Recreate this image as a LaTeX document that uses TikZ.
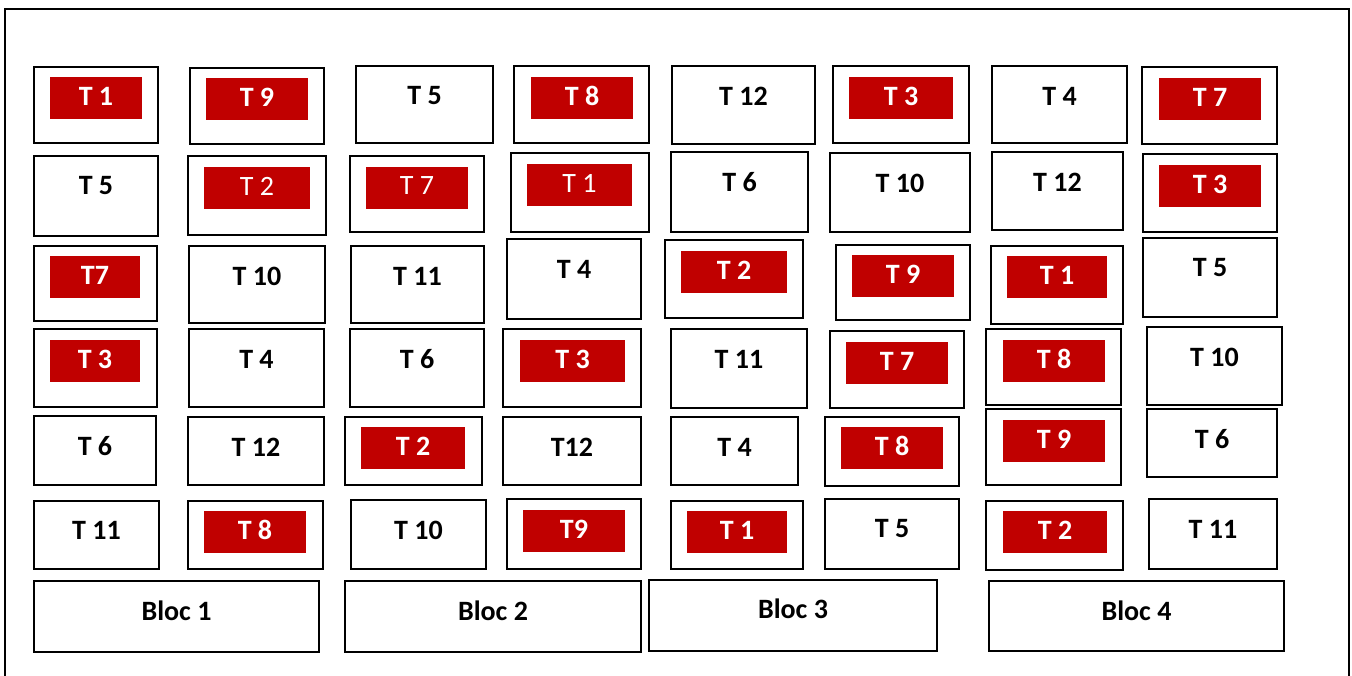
\documentclass[tikz,border=0pt]{standalone}
\usepackage{fontspec}
\setmainfont{Carlito}
\usepackage{tikz}
\definecolor{tagred}{HTML}{C00000}
\newcommand{\tagfont}{\fontsize{28}{34}\selectfont}

\begin{document}
\begin{tikzpicture}[x=1pt,y=-1pt,
  cell/.style={draw,line width=2pt},
  tag/.style={fill=tagred},
  lab/.style={inner sep=0pt,font=\tagfont\bfseries},
  wlab/.style={inner sep=0pt,text=white,font=\tagfont\bfseries},
  wthin/.style={inner sep=0pt,text=white,font=\tagfont}]
\useasboundingbox (0,0) rectangle (1352,675);
\draw[line width=2pt] (5,680) -- (5,9) -- (1349,9) -- (1349,680);
% row 1
\draw[cell] (34,67) rectangle (158,143);
\fill[tag] (50,77) rectangle (142,119);
\node[wlab] (r1c1) at (96,96) {T 1};
\draw[cell] (190,68) rectangle (324,144);
\fill[tag] (206,78) rectangle (308,120);
\node[wlab] (r1c2) at (257,97) {T 9};
\draw[cell] (356,66) rectangle (493,143);
\node[lab] (r1c3) at (424.5,96) {T 5};
\draw[cell] (514,66) rectangle (649,143);
\fill[tag] (531,77) rectangle (633,119);
\node[wlab] (r1c4) at (582,96) {T 8};
\draw[cell] (672,66) rectangle (815,144);
\node[lab] (r1c5) at (743.5,96) {T 12};
\draw[cell] (833,66) rectangle (969,143);
\fill[tag] (849,77) rectangle (953,119);
\node[wlab] (r1c6) at (901,96) {T 3};
\draw[cell] (992,66) rectangle (1127,143);
\node[lab] (r1c7) at (1059.5,96) {T 4};
\draw[cell] (1142,67) rectangle (1277,144);
\fill[tag] (1159,78) rectangle (1261,120);
\node[wlab] (r1c8) at (1210,97) {T 7};
% row 2
\draw[cell] (34,156) rectangle (158,236);
\node[lab] (r2c1) at (96,186) {T 5};
\draw[cell] (188,156) rectangle (326,235);
\fill[tag] (204,167) rectangle (310,209);
\node[wthin] (r2c2) at (257,186) {T 2};
\draw[cell] (350,156) rectangle (484,232);
\fill[tag] (366,167) rectangle (468,209);
\node[wthin] (r2c3) at (417,186) {T 7};
\draw[cell] (511,153) rectangle (649,232);
\fill[tag] (527,164) rectangle (632,206);
\node[wthin] (r2c4) at (579.5,183) {T 1};
\draw[cell] (671,152) rectangle (808,232);
\node[lab] (r2c5) at (739.5,182) {T 6};
\draw[cell] (830,153) rectangle (970,232);
\node[lab] (r2c6) at (900,183) {T 10};
\draw[cell] (992,152) rectangle (1123,230);
\node[lab] (r2c7) at (1057.5,182) {T 12};
\draw[cell] (1143,154) rectangle (1277,232);
\fill[tag] (1159,165) rectangle (1261,207);
\node[wlab] (r2c8) at (1210,184) {T 3};
% row 3
\draw[cell] (34,246) rectangle (157,321);
\fill[tag] (50,256) rectangle (140,298);
\node[wlab] (r3c1) at (95,275) {T7};
\draw[cell] (189,246) rectangle (325,323);
\node[lab] (r3c2) at (257,276) {T 10};
\draw[cell] (351,246) rectangle (484,323);
\node[lab] (r3c3) at (417.5,276) {T 11};
\draw[cell] (507,239) rectangle (641,319);
\node[lab] (r3c4) at (574,269) {T 4};
\draw[cell] (665,240) rectangle (803,318);
\fill[tag] (681,251) rectangle (787,293);
\node[wlab] (r3c5) at (734,270) {T 2};
\draw[cell] (836,245) rectangle (970,320);
\fill[tag] (852,255) rectangle (954,297);
\node[wlab] (r3c6) at (903,274) {T 9};
\draw[cell] (991,246) rectangle (1123,324);
\fill[tag] (1007,256) rectangle (1107,298);
\node[wlab] (r3c7) at (1057,275) {T 1};
\draw[cell] (1143,238) rectangle (1277,317);
\node[lab] (r3c8) at (1210,268) {T 5};
% row 4
\draw[cell] (34,329) rectangle (157,407);
\fill[tag] (50,340) rectangle (140,382);
\node[wlab] (r4c1) at (95,359) {T 3};
\draw[cell] (189,329) rectangle (324,407);
\node[lab] (r4c2) at (256.5,359) {T 4};
\draw[cell] (350,329) rectangle (484,407);
\node[lab] (r4c3) at (417,359) {T 6};
\draw[cell] (503,329) rectangle (641,407);
\fill[tag] (520,340) rectangle (625,382);
\node[wlab] (r4c4) at (572.5,359) {T 3};
\draw[cell] (671,329) rectangle (807,408);
\node[lab] (r4c5) at (739,359) {T 11};
\draw[cell] (830,331) rectangle (964,408);
\fill[tag] (846,342) rectangle (948,384);
\node[wlab] (r4c6) at (897,361) {T 7};
\draw[cell] (986,329) rectangle (1121,405);
\fill[tag] (1003,340) rectangle (1105,382);
\node[wlab] (r4c7) at (1054,359) {T 8};
\draw[cell] (1147,327) rectangle (1282,405);
\node[lab] (r4c8) at (1214.5,357) {T 10};
% row 5
\draw[cell] (34,416) rectangle (156,485);
\node[lab] (r5c1) at (95,446) {T 6};
\draw[cell] (188,417) rectangle (324,485);
\node[lab] (r5c2) at (256,447) {T 12};
\draw[cell] (345,417) rectangle (482,485);
\fill[tag] (361,427) rectangle (465,469);
\node[wlab] (r5c3) at (413,446) {T 2};
\draw[cell] (503,417) rectangle (641,485);
\node[lab] (r5c4) at (572,447) {T12};
\draw[cell] (671,417) rectangle (798,485);
\node[lab] (r5c5) at (734.5,447) {T 4};
\draw[cell] (825,417) rectangle (959,486);
\fill[tag] (841,427) rectangle (943,469);
\node[wlab] (r5c6) at (892,446) {T 8};
\draw[cell] (986,409) rectangle (1121,485);
\fill[tag] (1003,420) rectangle (1105,462);
\node[wlab] (r5c7) at (1054,439) {T 9};
\draw[cell] (1147,409) rectangle (1277,477);
\node[lab] (r5c8) at (1212,439) {T 6};
% row 6
\draw[cell] (34,501) rectangle (159,569);
\node[lab] (r6c1) at (96.5,530) {T 11};
\draw[cell] (188,501) rectangle (323,569);
\fill[tag] (204,511) rectangle (306,553);
\node[wlab] (r6c2) at (255,530) {T 8};
\draw[cell] (351,500) rectangle (486,569);
\node[lab] (r6c3) at (418.5,530) {T 10};
\draw[cell] (507,499) rectangle (641,569);
\fill[tag] (523,510) rectangle (625,552);
\node[wlab] (r6c4) at (574,529) {T9};
\draw[cell] (671,501) rectangle (803,569);
\fill[tag] (687,511) rectangle (787,553);
\node[wlab] (r6c5) at (737,530) {T 1};
\draw[cell] (825,499) rectangle (959,569);
\node[lab] (r6c6) at (892,529) {T 5};
\draw[cell] (986,501) rectangle (1123,570);
\fill[tag] (1003,511) rectangle (1107,553);
\node[wlab] (r6c7) at (1055,530) {T 2};
\draw[cell] (1149,499) rectangle (1277,569);
\node[lab] (r6c8) at (1213,529) {T 11};
% blocs
\draw[cell] (34,581) rectangle (319,652);
\node[lab] (bloc1) at (176.5,611) {Bloc 1};
\draw[cell] (345,581) rectangle (641,652);
\node[lab] (bloc2) at (493,611) {Bloc 2};
\draw[cell] (649,580) rectangle (937,651);
\node[lab] (bloc3) at (793,609) {Bloc 3};
\draw[cell] (989,581) rectangle (1284,651);
\node[lab] (bloc4) at (1136.5,611) {Bloc 4};
\end{tikzpicture}
\end{document}
